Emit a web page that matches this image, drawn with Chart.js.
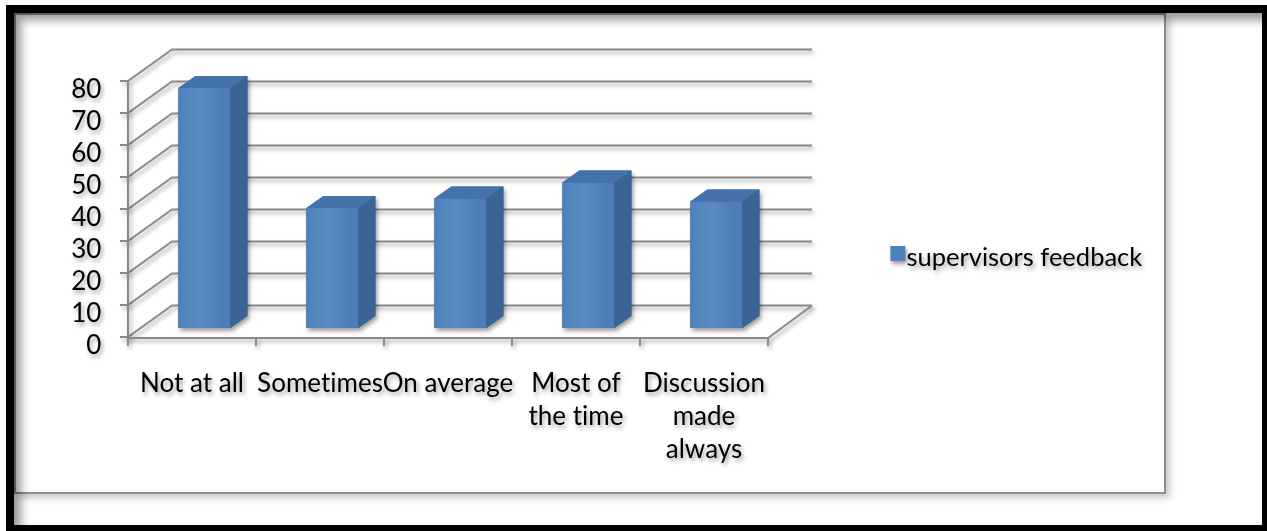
<!DOCTYPE html>
<html>
<head>
<meta charset="utf-8">
<title>supervisors feedback</title>
<script src="https://cdn.jsdelivr.net/npm/chart.js@4/dist/chart.umd.min.js"></script>
<style>
  html, body { margin: 0; padding: 0; background: #fff; width: 1267px; height: 531px; overflow: hidden; position: relative; }
  #frame { position: absolute; left: 14px; top: 13px; width: 1152px; height: 481px; box-sizing: border-box;
           border: 2px solid #8e8e8e; background: #fff; box-shadow: 4px 4px 7px rgba(0,0,0,0.22); }
  #outer { position: absolute; left: 6px; top: 5px; width: 1264px; height: 528px; box-sizing: border-box;
           border: 8px solid #000; box-shadow: inset 7px 7px 10px rgba(0,0,0,0.4); pointer-events: none; }
  #c { position: absolute; left: 0; top: 0; font-variant-ligatures: none; }
</style>
</head>
<body>
<div id="frame"></div>
<div id="outer"></div>
<canvas id="c" width="1267" height="531"></canvas>
<script>
// Categories, values and axis ticks
const categories = [['Not at all'], ['Sometimes'], ['On average'], ['Most of', 'the time'], ['Discussion', 'made', 'always']];
const feedbackValues = [75, 37.5, 40.5, 45.5, 39.5];
const yTicks = [0, 10, 20, 30, 40, 50, 60, 70, 80];
const seriesName = 'supervisors feedback';

// Look of the 3-D box
const FONT = 'Lato, "Open Sans", sans-serif';
const FONT_SIZE = 26;
const FRONT = '#4f81bd';
const SIDE = '#3a6494';
const TOP = '#4572ab';
const GRID = '#8a8a8a';
// Oblique depth offsets relative to the column plane (the chart area)
const D = { frontDx: -12.4, frontDy: 9, backDx: 31.6, backDy: -22.5, barDx: 17, barDy: -12 };

function shadowOn(ctx) {
  ctx.shadowColor = 'rgba(0,0,0,0.38)';
  ctx.shadowBlur = 4;
  ctx.shadowOffsetX = 2;
  ctx.shadowOffsetY = 3;
}
function shadowOff(ctx) {
  ctx.shadowColor = 'rgba(0,0,0,0)';
  ctx.shadowBlur = 0;
  ctx.shadowOffsetX = 0;
  ctx.shadowOffsetY = 0;
}

const box3d = {
  id: 'box3d',
  beforeDraw(chart) {
    const ctx = chart.ctx;
    ctx.save();
    // plain glyph sequences, no "ti"/"fi" ligatures
    if ('textRendering' in ctx) ctx.textRendering = 'optimizeSpeed';
    if ('letterSpacing' in ctx) ctx.letterSpacing = '0.01px';
    shadowOn(ctx);
  },
  beforeDatasetsDraw(chart) {
    const { ctx, chartArea: a, scales: { y } } = chart;
    const n = categories.length;
    ctx.save();
    ctx.strokeStyle = GRID;
    ctx.lineWidth = 2;
    ctx.lineJoin = 'miter';
    const fx = a.left + D.frontDx;
    const bx = a.left + D.backDx;
    const rbx = a.right + D.backDx;
    const rfx = a.right + D.frontDx;
    // side-wall diagonals, back-wall gridlines and value ticks
    yTicks.forEach(v => {
      const py = y.getPixelForValue(v);
      ctx.beginPath();
      ctx.moveTo(fx - 8, py + D.frontDy);
      ctx.lineTo(fx, py + D.frontDy);
      ctx.lineTo(bx, py + D.backDy);
      ctx.lineTo(rbx, py + D.backDy);
      ctx.stroke();
    });
    // front value axis
    const y0 = y.getPixelForValue(0);
    const yMax = y.getPixelForValue(yTicks[yTicks.length - 1]);
    ctx.beginPath();
    ctx.moveTo(fx, yMax + D.frontDy);
    ctx.lineTo(fx, y0 + D.frontDy + 1);
    ctx.stroke();
    // floor front and right edges
    ctx.beginPath();
    ctx.moveTo(fx, y0 + D.frontDy + 1);
    ctx.lineTo(rfx, y0 + D.frontDy + 1);
    ctx.lineTo(rbx, y0 + D.backDy);
    ctx.stroke();
    // category ticks
    for (let i = 0; i <= n; i++) {
      const px = fx + i * (a.width / n);
      ctx.beginPath();
      ctx.moveTo(px, y0 + D.frontDy + 1);
      ctx.lineTo(px, y0 + D.frontDy + 9);
      ctx.stroke();
    }
    // column silhouettes carry the drop shadow
    const meta = chart.getDatasetMeta(0);
    ctx.fillStyle = SIDE;
    meta.data.forEach(el => {
      const p = el.getProps(['x', 'y', 'base', 'width'], true);
      const l = p.x - p.width / 2, r = p.x + p.width / 2;
      ctx.beginPath();
      ctx.moveTo(l, p.base);
      ctx.lineTo(l, p.y);
      ctx.lineTo(l + D.barDx, p.y + D.barDy);
      ctx.lineTo(r + D.barDx, p.y + D.barDy);
      ctx.lineTo(r + D.barDx, p.base + D.barDy);
      ctx.lineTo(r, p.base);
      ctx.closePath();
      ctx.fill();
    });
    ctx.restore();
    shadowOff(ctx);
  },
  afterDatasetsDraw(chart) {
    const { ctx } = chart;
    const meta = chart.getDatasetMeta(0);
    meta.data.forEach(el => {
      const p = el.getProps(['x', 'y', 'base', 'width'], true);
      const l = p.x - p.width / 2, r = p.x + p.width / 2;
      // soft highlight down the front face
      const g = ctx.createLinearGradient(l, 0, r, 0);
      g.addColorStop(0, 'rgba(255,255,255,0)');
      g.addColorStop(0.45, 'rgba(255,255,255,0.07)');
      g.addColorStop(1, 'rgba(0,0,0,0.04)');
      ctx.fillStyle = g;
      ctx.fillRect(l, p.y, p.width, p.base - p.y);
      // right face
      ctx.fillStyle = SIDE;
      ctx.beginPath();
      ctx.moveTo(r, p.y);
      ctx.lineTo(r + D.barDx, p.y + D.barDy);
      ctx.lineTo(r + D.barDx, p.base + D.barDy);
      ctx.lineTo(r, p.base);
      ctx.closePath();
      ctx.fill();
      // top face
      ctx.fillStyle = TOP;
      ctx.beginPath();
      ctx.moveTo(l, p.y);
      ctx.lineTo(l + D.barDx, p.y + D.barDy);
      ctx.lineTo(r + D.barDx, p.y + D.barDy);
      ctx.lineTo(r, p.y);
      ctx.closePath();
      ctx.fill();
    });
    shadowOn(ctx);
  },
  afterDraw(chart) {
    const { ctx, chartArea: a } = chart;
    const ds = chart.data.datasets[0];
    // legend entry
    const lx = a.right + 110, ly = 253;
    ctx.fillStyle = ds.backgroundColor;
    ctx.fillRect(lx, ly - 7, 15, 15);
    ctx.fillStyle = '#000';
    ctx.font = '25.5px ' + FONT;
    ctx.textAlign = 'left';
    ctx.textBaseline = 'middle';
    ctx.fillText(ds.label, lx + 16, ly + 5);
    ctx.restore();
  }
};

new Chart(document.getElementById('c'), {
  type: 'bar',
  data: {
    labels: categories,
    datasets: [{
      label: seriesName,
      data: feedbackValues,
      backgroundColor: FRONT,
      borderWidth: 0,
      barPercentage: 0.40625,
      categoryPercentage: 1
    }]
  },
  options: {
    responsive: false,
    animation: false,
    events: [],
    layout: { padding: { left: 0, top: 72, right: 486.6, bottom: 0 } },
    plugins: { legend: { display: false }, tooltip: { enabled: false } },
    scales: {
      x: {
        grid: { display: false, drawTicks: false },
        border: { display: false },
        ticks: {
          color: '#000', padding: 39, maxRotation: 0, minRotation: 0, autoSkip: false,
          labelOffset: D.frontDx,
          font: { family: FONT, size: FONT_SIZE, lineHeight: 1.27 }
        },
        afterFit(s) { s.height = 203; }
      },
      y: {
        min: 0, max: 80,
        grid: { display: false, drawTicks: false },
        border: { display: false },
        afterBuildTicks(s) { s.ticks = yTicks.map(v => ({ value: v })); },
        ticks: {
          color: '#000', padding: 39, labelOffset: 18, autoSkip: false,
          font: { family: FONT, size: FONT_SIZE }
        },
        afterFit(s) { s.width = 140.4; }
      }
    }
  },
  plugins: [box3d]
});
</script>
</body>
</html>
